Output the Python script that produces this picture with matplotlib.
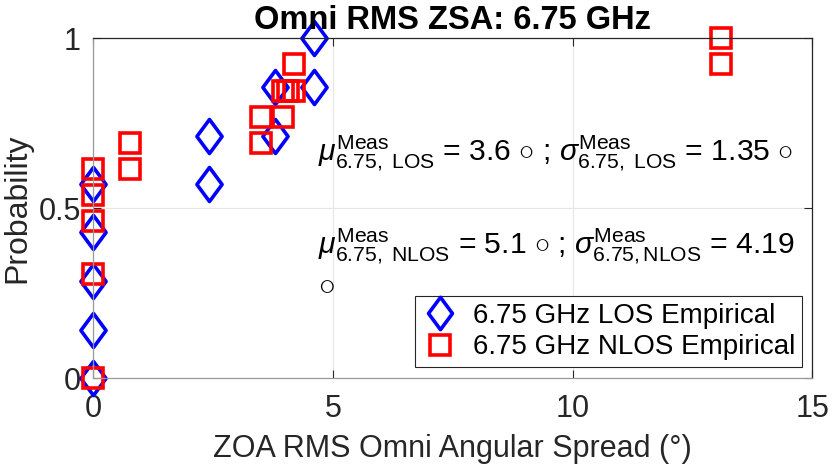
import matplotlib
matplotlib.use('Agg')
import matplotlib.pyplot as plt
from matplotlib.path import Path

plt.rcParams['font.family'] = ['Liberation Sans', 'DejaVu Sans']
plt.rcParams['mathtext.fontset'] = 'custom'
plt.rcParams['mathtext.rm'] = 'Liberation Sans'
plt.rcParams['mathtext.it'] = 'Liberation Sans:italic'
plt.rcParams['mathtext.sf'] = 'Liberation Sans'

# values
los_x = [0, 0, 0, 0, 0, 2.42, 2.42, 3.79, 3.79, 4.61, 4.61]
los_y = [0, 0.143, 0.286, 0.429, 0.571, 0.571, 0.714, 0.714, 0.857, 0.857, 1.0]

nlos_x = [0, 0, 0, 0, 0, 0.76, 0.76, 3.50, 3.50, 3.95, 3.95, 4.06, 4.18, 4.18, 13.1, 13.1]
nlos_y = [0, 0.308, 0.462, 0.538, 0.615, 0.615, 0.692, 0.692, 0.769, 0.769, 0.846, 0.846, 0.846, 0.923, 0.923, 1.0]

x_ticks = [0, 5, 10, 15]
y_ticks = [0, 0.5, 1]
y_tick_labels = ['0', '0.5', '1']

los_label = '6.75 GHz LOS Empirical'
nlos_label = '6.75 GHz NLOS Empirical'
line_los = r'$\mu^{\mathrm{Meas}}_{\mathrm{6.75,\ LOS}}$ = 3.6 $\circ$ ; $\sigma^{\mathrm{Meas}}_{\mathrm{6.75,\ LOS}}$ = 1.35 $\circ$'
line_nlos = r'$\mu^{\mathrm{Meas}}_{\mathrm{6.75,\ NLOS}}$ = 5.1 $\circ$ ; $\sigma^{\mathrm{Meas}}_{\mathrm{6.75,NLOS}}$ = 4.19'

DARK = '#262626'

# MATLAB style diamond (a bit taller than wide)
diamond = Path([(0, 1), (0.74, 0), (0, -1), (-0.74, 0), (0, 1)],
               [Path.MOVETO, Path.LINETO, Path.LINETO, Path.LINETO, Path.CLOSEPOLY])

fig = plt.figure(figsize=(8.3, 4.72), dpi=100)
ax = fig.add_axes([0.1124, 0.1985, 0.8663, 0.7204])

ax.plot(los_x, los_y, linestyle='none', marker=diamond, ms=24.5, mfc='none',
        mec='#0000ff', mew=2.6, clip_on=False, label=los_label)
ax.plot(nlos_x, nlos_y, linestyle='none', marker='s', ms=15, mfc='none',
        mec='#ff0000', mew=2.6, clip_on=False, label=nlos_label)

ax.set_xlim(0, 15)
ax.set_ylim(0, 1)
ax.set_xticks(x_ticks)
ax.set_yticks(y_ticks)
ax.set_yticklabels(y_tick_labels)
ax.grid(True, color='#e6e6e6', linewidth=0.8)
ax.set_axisbelow(True)
ax.tick_params(direction='in', length=6, width=0.8, top=True, right=True,
               labelsize=22, colors=DARK)
ax.tick_params(axis='x', pad=11)
ax.tick_params(axis='y', pad=9)

for side in ['top', 'right']:
    ax.spines[side].set_color(DARK)
for side in ['left', 'bottom']:
    ax.spines[side].set_color('#9a9a9a')
for sp in ax.spines.values():
    sp.set_linewidth(0.9)

ax.set_xlabel('ZOA RMS Omni Angular Spread (°)', fontsize=22, color=DARK)
ax.set_ylabel('Probability', fontsize=23, color=DARK)
ax.xaxis.set_label_coords(0.5, -0.165)
ax.yaxis.set_label_coords(-0.085, 0.5)
ax.set_title('Omni RMS ZSA: 6.75 GHz', fontsize=23.5, fontweight='bold', pad=7)

ax.text(4.68, 0.64, line_los, fontsize=21.7, va='baseline')
ax.text(4.68, 0.368, line_nlos, fontsize=21.7, va='baseline')
ax.text(4.68, 0.25, r'$\circ$', fontsize=24, va='baseline')

leg = ax.legend(loc='lower right', bbox_to_anchor=(0.986, 0.032), borderaxespad=0,
                fontsize=20, fancybox=False, framealpha=1, edgecolor=DARK,
                handlelength=1.3, handletextpad=0.55, borderpad=0.25, labelspacing=0.2)
leg.get_frame().set_linewidth(0.8)
for h in leg.legend_handles:
    h.set_markersize(h.get_markersize() * 0.95)

fig.savefig('out.png', dpi=100)
